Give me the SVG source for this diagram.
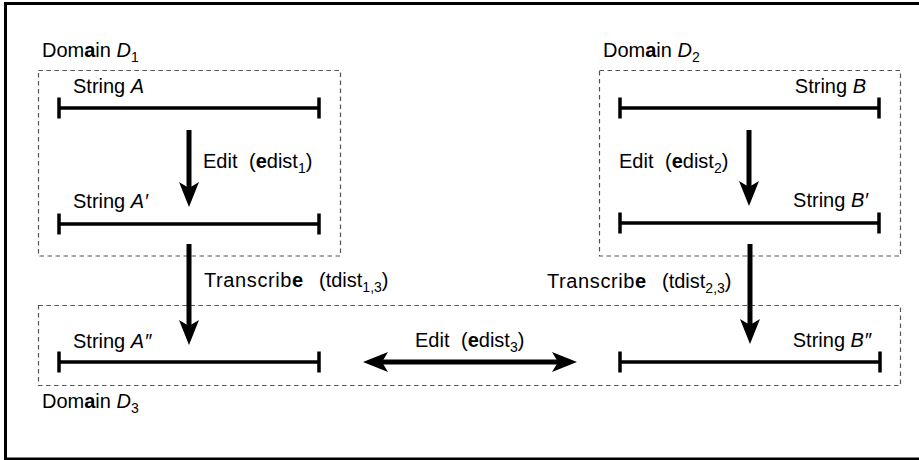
<svg xmlns="http://www.w3.org/2000/svg" width="919" height="460" viewBox="0 0 919 460">
<style>
text{font-family:"Liberation Sans",Arial,sans-serif;font-size:20px;fill:#000}
.b{font-weight:bold}
.i{font-style:italic}
.sub{font-size:14px}
.ls{letter-spacing:0.6px}
.box{fill:none;stroke:#555;stroke-width:1.2;stroke-dasharray:4.5 3.5}
.str{fill:none;stroke:#000;stroke-width:3.5}
.arr{fill:none;stroke:#000;stroke-width:5}
</style>
<defs>
<marker id="ah" viewBox="-26 -11 27 22" markerWidth="27" markerHeight="22" refX="-19" refY="0" markerUnits="userSpaceOnUse" orient="auto-start-reverse">
<path d="M0,0 L-25,-10 L-19,0 L-25,10 Z" fill="#000"/>
</marker>
</defs>
<rect x="5.5" y="3.5" width="940" height="455.5" fill="#fff" stroke="#000" stroke-width="3"/>

<g id="domain1">
<rect class="box" x="38.5" y="70.5" width="302" height="185.5"/>
<text x="42" y="57">Dom<tspan class="b">a</tspan>in <tspan class="i">D</tspan><tspan class="sub" dy="5">1</tspan></text>
</g>
<g id="domain2">
<rect class="box" x="599.5" y="70.5" width="301" height="185.5"/>
<text x="603" y="57">Dom<tspan class="b">a</tspan>in <tspan class="i">D</tspan><tspan class="sub" dy="5">2</tspan></text>
</g>
<g id="domain3">
<rect class="box" x="38.5" y="305.5" width="862" height="80"/>
<text x="42" y="408">Dom<tspan class="b">a</tspan>in <tspan class="i">D</tspan><tspan class="sub" dy="5">3</tspan></text>
</g>

<g id="stringA">
<path class="str" d="M59,108 H319 M59,97.5 V118.5 M319,97.5 V118.5"/>
<text x="73" y="93">String <tspan class="i">A</tspan></text>
</g>
<g id="stringA1">
<path class="str" d="M59,224 H319 M59,213.5 V234.5 M319,213.5 V234.5"/>
<text x="73" y="208">String <tspan class="i">A′</tspan></text>
</g>
<g id="stringA2">
<path class="str" d="M59,362 H319 M59,351.5 V372.5 M319,351.5 V372.5"/>
<text x="73" y="348">String <tspan class="i">A″</tspan></text>
</g>
<g id="stringB">
<path class="str" d="M620,108 H879 M620,97.5 V118.5 M879,97.5 V118.5"/>
<text x="866" y="93" text-anchor="end">String <tspan class="i">B</tspan></text>
</g>
<g id="stringB1">
<path class="str" d="M620,223 H879 M620,212.5 V233.5 M879,212.5 V233.5"/>
<text x="868" y="207" text-anchor="end">String <tspan class="i">B′</tspan></text>
</g>
<g id="stringB2">
<path class="str" d="M620,362 H880 M620,351.5 V372.5 M880,351.5 V372.5"/>
<text x="871" y="347" text-anchor="end">String <tspan class="i">B″</tspan></text>
</g>

<g id="connectors">
<line class="arr" x1="189" y1="130" x2="189" y2="188" marker-end="url(#ah)"/>
<line class="arr" x1="749" y1="130" x2="749" y2="187" marker-end="url(#ah)"/>
<line class="arr" x1="189" y1="244" x2="189" y2="326" marker-end="url(#ah)"/>
<line class="arr" x1="750" y1="244" x2="750" y2="325" marker-end="url(#ah)"/>
<line class="arr" x1="382" y1="362" x2="558" y2="362" marker-start="url(#ah)" marker-end="url(#ah)"/>
<text x="203" y="168">Edit<tspan x="249">(</tspan><tspan class="b">e</tspan>dist<tspan class="sub" dy="5">1</tspan><tspan dy="-5">)</tspan></text>
<text x="619" y="168">Edit<tspan x="665">(</tspan><tspan class="b">e</tspan>dist<tspan class="sub" dy="5">2</tspan><tspan dy="-5">)</tspan></text>
<text x="415" y="347">Edit<tspan x="461">(</tspan><tspan class="b">e</tspan>dist<tspan class="sub" dy="5">3</tspan><tspan dy="-5">)</tspan></text>
<text x="204" y="287"><tspan class="ls">Transcrib</tspan><tspan class="b">e</tspan><tspan x="319">(tdist</tspan><tspan class="sub" dy="5">1,3</tspan><tspan dy="-5">)</tspan></text>
<text x="547" y="288"><tspan class="ls">Transcrib</tspan><tspan class="b">e</tspan><tspan x="662">(tdist</tspan><tspan class="sub" dy="5">2,3</tspan><tspan dy="-5">)</tspan></text>
</g>
</svg>
